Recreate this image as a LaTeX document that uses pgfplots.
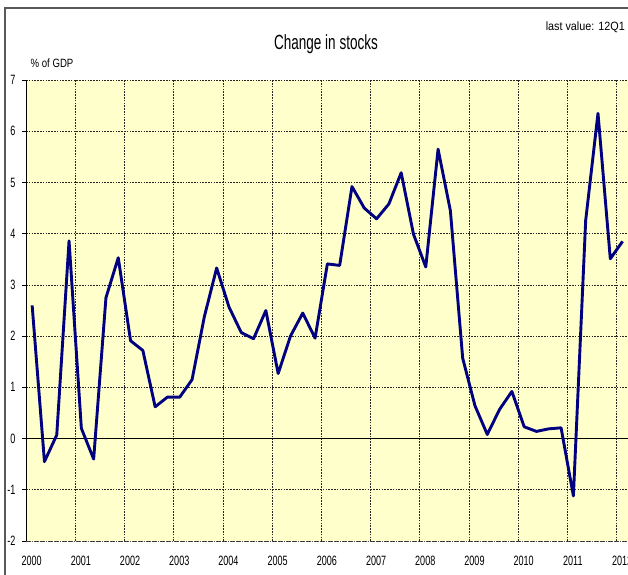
\documentclass[border=0pt]{standalone}
\usepackage{pgfplots}
\pgfplotsset{compat=1.18}
\usepackage{fontspec}
\setmainfont{Liberation Sans}
\newfontfamily\narrowfont[FakeStretch=0.67]{Liberation Sans}
\newfontfamily\titlefont[FakeStretch=0.66]{Liberation Sans}
\newfontfamily\labelfont[FakeStretch=0.8]{Liberation Sans}
\newfontfamily\lastfont[FakeStretch=0.9]{Liberation Sans}
\definecolor{bgyellow}{HTML}{FFFFCC}
\definecolor{navyline}{HTML}{000080}
\pgfplotstableread{
q v
0 2.60
1 -0.45
2 0.07
3 3.86
4 0.20
5 -0.40
6 2.75
7 3.53
8 1.91
9 1.72
10 0.62
11 0.81
12 0.81
13 1.15
14 2.38
15 3.33
16 2.57
17 2.07
18 1.95
19 2.50
20 1.27
21 2.00
22 2.45
23 1.96
24 3.41
25 3.38
26 4.92
27 4.50
28 4.29
29 4.58
30 5.19
31 3.99
32 3.35
33 5.65
34 4.45
35 1.57
36 0.64
37 0.08
38 0.57
39 0.92
40 0.23
41 0.14
42 0.19
43 0.21
44 -1.12
45 4.26
46 6.35
47 3.51
48 3.85
}\stocks
\begin{document}
\begin{tikzpicture}[x=1pt,y=1pt]
\useasboundingbox (0,0) rectangle (628,-574);
\clip (0,0) rectangle (628,-574);
\fill[white] (0,0) rectangle (628,-574);
\draw[gray!70!black, line width=1.2pt] (5,-700) -- (5,-8) -- (700,-8);
\begin{axis}[
  at={(26pt,-541pt)}, anchor=south west,
  scale only axis, width=602pt, height=461pt,
  xmin=-0.5, xmax=48.44, ymin=-2, ymax=7,
  axis background/.style={fill=bgyellow},
  axis lines*=left,
  x axis line style={draw=gray!60!black, densely dotted, line width=1pt},
  y axis line style={black, line width=0.8pt},
  /pgf/number format/assume math mode=true,
  xtick={0,4,...,48},
  xticklabels={2000,2001,2002,2003,2004,2005,2006,2007,2008,2009,2010,2011,2012},
  xtick style={draw=none},
  xticklabel style={font=\narrowfont\fontsize{13.5}{15}\selectfont, xshift=-0.5pt, yshift=-8pt},
  extra x ticks={3.5,7.5,...,47.5},
  extra x tick labels={},
  extra x tick style={grid=major, tick style={draw=none}},
  ytick={-2,-1,...,7},
  yticklabel style={font=\narrowfont\fontsize{13.5}{15}\selectfont, xshift=-3pt},
  ymajorgrids,
  grid style={black!85, dash pattern=on 1.6pt off 1.2pt, line width=0.6pt},
  tick align=outside,
  major tick length=4pt,
  ytick style={black, line width=0.6pt},
  clip=false,
]
\addplot[draw=black, line width=0.8pt, forget plot] coordinates {(-0.5,0) (48.44,0)};
\addplot[navyline, line width=2.9pt, line join=round, no marks] table[x=q, y=v] {\stocks};
\end{axis}
\node[font=\titlefont\fontsize{20.5}{23}\selectfont] at (326,-44) {Change in stocks};
\node[font=\lastfont\fontsize{12}{14}\selectfont, anchor=east, inner xsep=0pt] at (625,-27.5) {last value: 12Q1};
\node[font=\labelfont\fontsize{12}{14}\selectfont, anchor=west, inner xsep=0pt] at (30.5,-63.5) {\% of GDP};
\end{tikzpicture}
\end{document}
